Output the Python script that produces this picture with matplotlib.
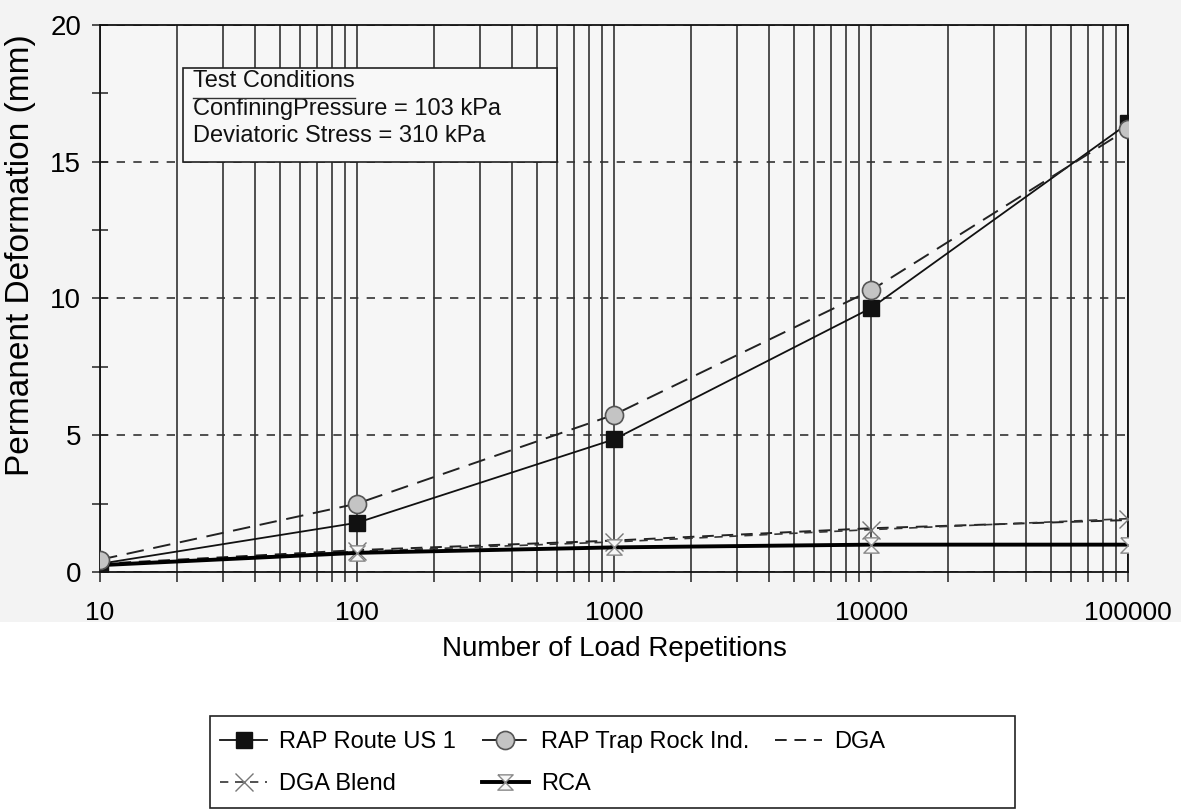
import numpy as np
import matplotlib
matplotlib.use("Agg")
import matplotlib.pyplot as plt
from matplotlib.lines import Line2D
from matplotlib.patches import Rectangle
from matplotlib.ticker import LogLocator, NullFormatter, MultipleLocator

plt.rcParams['font.family'] = ['Liberation Sans', 'DejaVu Sans']

# data
reps = [10, 100, 1000, 10000, 100000]
rap_us1 = [0.3, 1.8, 4.85, 9.65, 16.4]
rap_trap = [0.45, 2.5, 5.75, 10.3, 16.2]
dga = [0.3, 0.8, 1.15, 1.6, 1.9]
dga_blend = [0.25, 0.75, 1.1, 1.55, 1.95]
rca = [0.25, 0.7, 0.9, 1.0, 1.0]

x_ticks = [10, 100, 1000, 10000, 100000]
x_labels = ["10", "100", "1000", "10000", "100000"]
y_ticks = [0, 5, 10, 15, 20]

box_lines = ["Test Conditions",
             "ConfiningPressure = 103 kPa",
             "Deviatoric Stress = 310 kPa"]

# hourglass marker for RCA
hourglass = [(-1, 1), (1, 1), (-1, -1), (1, -1), (-1, 1)]

fig = plt.figure(figsize=(11.81, 8.11), dpi=100)
# light grey of the scanned page
fig.patches.append(Rectangle((0, 1 - 622 / 811), 1, 622 / 811, transform=fig.transFigure,
                             fc="#f3f3f3", ec="none", zorder=-10))

ax = fig.add_axes([0.0847, 0.2947, 0.8705, 0.6745])
ax.set_facecolor("#f6f6f6")

ax.plot(reps, rap_us1, color="#111", lw=1.3, marker="s", ms=11, mfc="#111", mec="#111",
        zorder=4, label="RAP Route US 1")
ax.plot(reps, rap_trap, color="#222", lw=1.4, ls=(0, (9, 5)), marker="o", ms=13,
        mfc="#c4c4c4", mec="#555", mew=1.2, zorder=4, label="RAP Trap Rock Ind.")
ax.plot(reps, dga, color="#222", lw=1.4, ls=(0, (6, 4)), zorder=3, label="DGA")
ax.plot(reps, dga_blend, color="#333", lw=1.2, ls=(0, (5, 4)), marker="x", ms=13,
        mec="#777", mew=1.0, zorder=3, label="DGA Blend")
ax.plot(reps, rca, color="#000", lw=2.8, marker=hourglass, ms=11, mfc="#f6f6f6",
        mec="#888", mew=1.0, zorder=3, label="RCA")

ax.set_xscale("log")
ax.set_xlim(10, 100000)
ax.set_ylim(0, 20)
ax.set_xticks(x_ticks)
ax.set_xticklabels(x_labels)
ax.xaxis.set_minor_locator(LogLocator(base=10, subs=np.arange(2, 10)))
ax.xaxis.set_minor_formatter(NullFormatter())
ax.set_yticks(y_ticks)
ax.yaxis.set_minor_locator(MultipleLocator(2.5))

ax.grid(which="both", axis="x", color="#222", lw=1.1, ls="-", zorder=1)
ax.grid(which="major", axis="y", color="#333", lw=1.2, ls=(0, (5, 5)), zorder=1)
ax.set_axisbelow(True)

ax.tick_params(axis="x", which="both", direction="out", length=7, width=1.1,
               labelsize=19, pad=14, color="#222")
ax.tick_params(axis="y", which="both", direction="inout", length=11, width=1.1,
               labelsize=20, pad=8, color="#222")
for s in ax.spines.values():
    s.set_color("#111")
    s.set_linewidth(1.3)

ax.set_xlabel("Number of Load Repetitions", fontsize=20, labelpad=8)
ax.set_ylabel("Permanent Deformation (mm)", fontsize=24)
ax.yaxis.set_label_coords(-0.062, 0.58)

# test conditions box
ax.add_patch(Rectangle((0.0807, 0.7495), 0.364, 0.1715, transform=ax.transAxes,
                       fc="#f8f8f8", ec="#222", lw=1.2, zorder=5))
for i, t in enumerate(box_lines):
    ax.text(0.0904, 0.897 - i * 0.05, t, transform=ax.transAxes, fontsize=17,
            va="center", ha="left", zorder=6, color="#111")
ax.add_line(Line2D([0.0904, 0.248], [0.8665, 0.8665], transform=ax.transAxes,
                   color="#333", lw=1.0, zorder=6))

# legend, filled row by row
h, l = ax.get_legend_handles_labels()
order = [0, 3, 1, 4, 2]
fig.legend([h[i] for i in order], [l[i] for i in order], loc="upper left",
           bbox_to_anchor=(220 / 1181, 1 - 731 / 811), ncol=3, frameon=False,
           fontsize=17, handlelength=2.0, handletextpad=0.5, columnspacing=1.1,
           labelspacing=0.85, borderpad=0, borderaxespad=0)
fig.patches.append(Rectangle((210 / 1181, 1 - 808 / 811), 805 / 1181, 92 / 811,
                             transform=fig.transFigure, fc="white", ec="#222",
                             lw=1.2, zorder=-5))

fig.savefig("out.png", dpi=100)
